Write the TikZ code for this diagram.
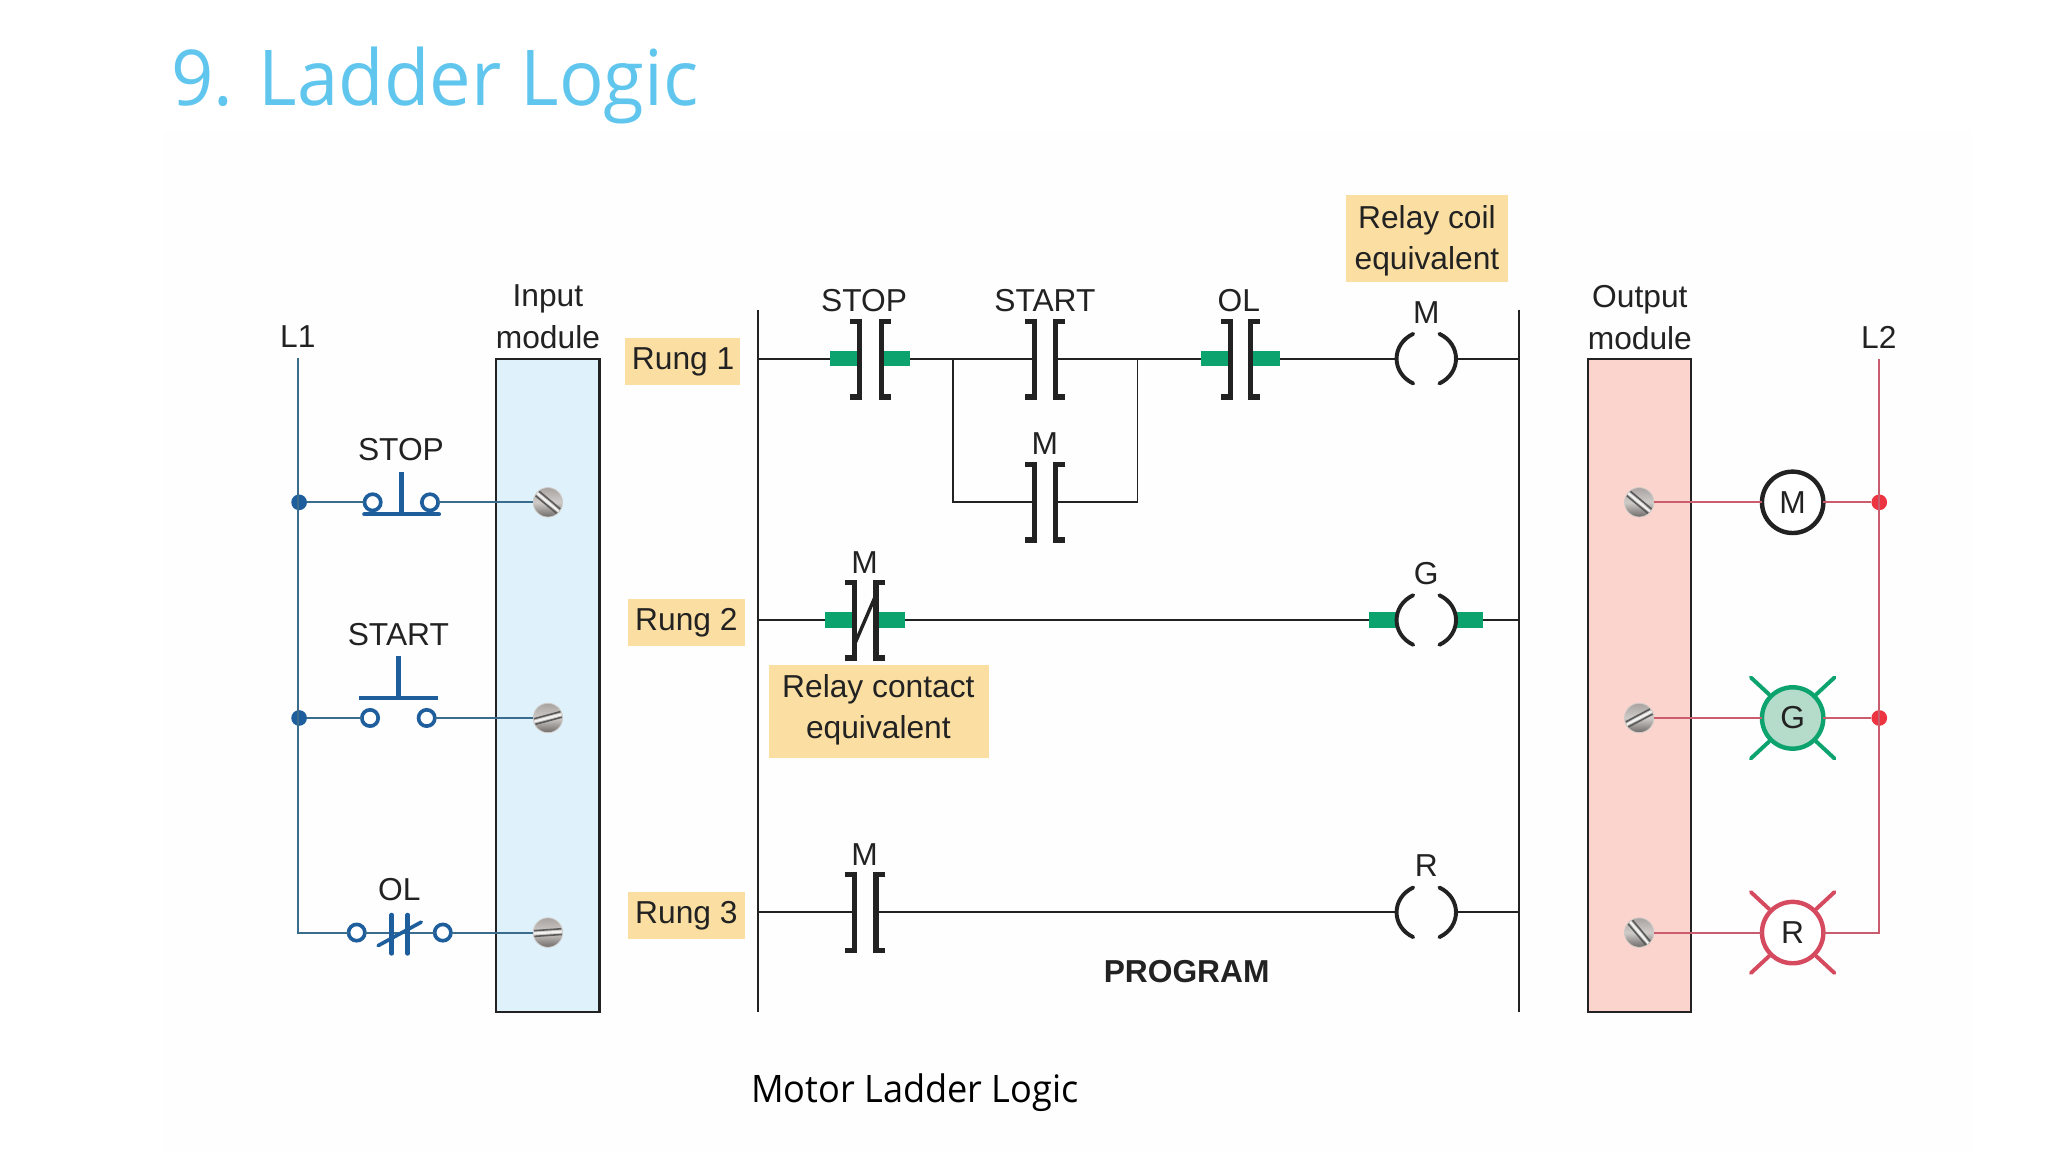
\documentclass[tikz,border=0pt]{standalone}
\usepackage{fontspec}
\setmainfont{Liberation Sans}
\newfontfamily\titlefont[FakeStretch=0.962]{Open Sans}
\newfontfamily\capfont[FakeStretch=0.955]{Open Sans}
\definecolor{titleblue}{HTML}{61C6EE}
\definecolor{tagyellow}{HTML}{FBDFA2}
\definecolor{inblue}{HTML}{DFF1FB}
\definecolor{outred}{HTML}{FBD5CD}
\definecolor{wireblue}{HTML}{3A6C8E}
\definecolor{iconblue}{HTML}{1F5E9C}
\definecolor{wirered}{HTML}{CB5C6E}
\definecolor{dotred}{HTML}{EC3540}
\definecolor{relaygreen}{HTML}{0DA36F}
\definecolor{lampgreen}{HTML}{B5DCCB}
\definecolor{lampred}{HTML}{D64A60}
\definecolor{inkk}{HTML}{222222}
\definecolor{screwlight}{HTML}{CFCBC8}
\definecolor{screwmid}{HTML}{A8A3A0}
\definecolor{screwdark}{HTML}{6E6A68}
\tikzset{
  x=1pt,y=-1pt,
  every node/.style={inner sep=0pt,outer sep=0pt,font=\fontsize{24.3}{26}\selectfont,text=inkk},
  tag/.style={fill=tagyellow,draw=none,anchor=center},
  module/.style={draw=inkk,line width=1.7pt},
  rail/.style={draw=inkk,line width=1.8pt},
  rung/.style={draw=inkk,line width=1.5pt},
  bwire/.style={draw=wireblue,line width=1.5pt},
  rwire/.style={draw=wirered,line width=1.5pt},
  term/.style={circle,draw=iconblue,line width=2.8pt,fill=white,minimum size=12.5pt},
  bicon/.style={draw=iconblue,line width=3.4pt},
  bdot/.style={circle,fill=iconblue,minimum size=12pt},
  rdot/.style={circle,fill=dotred,minimum size=12pt},
  gbar/.style={rectangle,fill=relaygreen,minimum height=12pt},
  bracket/.style={draw=inkk,line width=4pt},
  coilarc/.style={draw=inkk,line width=3pt,line cap=round},
  screw/.style={circle,minimum size=22.5pt,draw=screwlight,line width=0.6pt,top color=screwmid,bottom color=screwdark,middle color=screwlight},
  lamp/.style={circle,minimum size=47pt,line width=3.4pt,fill=white},
  ray/.style={line width=3pt,line cap=round},
}
\newcommand{\slot}[3]{%
  \begin{scope}[shift={(#1,#2)},rotate=#3]
    \draw[black!65,line width=1.2pt] (-10.5,-2.2) -- (10.5,-2.2);
    \draw[white!90!gray,line width=1.6pt] (-10.8,0) -- (10.8,0);
    \draw[black!65,line width=1.2pt] (-10.5,2.2) -- (10.5,2.2);
  \end{scope}}
\newcommand{\contact}[3]{%
  \draw[bracket] (#1-7,#3-29) -- (#1,#3-29) -- (#1,#3+29) -- (#1-7,#3+29);
  \draw[bracket] (#2+7,#3-29) -- (#2,#3-29) -- (#2,#3+29) -- (#2+7,#3+29);}
\newcommand{\coil}[2]{%
  \draw[coilarc] (#1-10,#2-19) .. controls (#1-27,#2-11) and (#1-27,#2+11) .. (#1-10,#2+19);
  \draw[coilarc] (#1+10,#2-19) .. controls (#1+27,#2-11) and (#1+27,#2+11) .. (#1+10,#2+19);}
\newcommand{\rays}[3]{%
  \draw[ray,#3] (#1-32,#2-31) -- (#1-18,#2-18);
  \draw[ray,#3] (#1+32,#2-31) -- (#1+18,#2-18);
  \draw[ray,#3] (#1-32,#2+31) -- (#1-18,#2+18);
  \draw[ray,#3] (#1+32,#2+31) -- (#1+18,#2+18);}
\begin{document}
\begin{tikzpicture}
\useasboundingbox (0,0) rectangle (1568,882);
\fill[white] (0,0) rectangle (1568,882);
\fill[black!0.4] (125,100) rectangle (1510,882);

% slide text
\node[font=\titlefont\fontsize{59}{62}\selectfont,text=titleblue,anchor=base west] (title) at (131,81) {9. Ladder Logic};
\node[font=\capfont\fontsize{29}{32}\selectfont,text=black,anchor=base west] (caption) at (575,844) {Motor Ladder Logic};

% modules
\node[module,fill=inblue,minimum width=79pt,minimum height=500pt] (inmod) at (419.5,525) {};
\node[module,fill=outred,minimum width=79pt,minimum height=500pt] (outmod) at (1255,525) {};

% tags
\node[tag,minimum width=88pt,minimum height=36pt] (tag1) at (522.5,276.5) {};
\node (tag1t) at (523,277) {Rung 1};
\node[tag,minimum width=90pt,minimum height=35.5pt] (tag2) at (525.5,476.7) {};
\node (tag2t) at (525.5,477) {Rung 2};
\node[tag,minimum width=90pt,minimum height=36pt] (tag3) at (525.5,701) {};
\node (tag3t) at (525.5,701) {Rung 3};
\node[tag,minimum width=124pt,minimum height=66.5pt] (tagcoil) at (1092.5,182.5) {};
\node (tagcoil1) at (1092.5,168.5) {Relay coil};
\node (tagcoil2) at (1092.5,200) {equivalent};
\node[tag,minimum width=168pt,minimum height=71pt] (tagcontact) at (673,544.5) {};
\node (tagcontact1) at (672.5,528) {Relay contact};
\node (tagcontact2) at (672.5,559.5) {equivalent};

% headings
\node (inA) at (419.5,229) {Input};
\node (inB) at (419.5,258.5) {module};
\node (outA) at (1255.5,229.5) {Output};
\node (outB) at (1255.5,259) {module};
\node (l1t) at (228,258) {L1};
\node (l2t) at (1438.5,258.5) {L2};
\node[font=\bfseries\fontsize{24.3}{26}\selectfont] (prog) at (908.5,744) {PROGRAM};

% --- left side ---
\coordinate (l1top) at (228.4,274);
\coordinate (l1bot) at (228.4,714);
\node[screw] (is1) at (419.5,384.6) {};
\node[screw] (is2) at (419.5,549.7) {};
\node[screw] (is3) at (419.5,714) {};
\node[term] (stopa) at (285.3,384.6) {};
\node[term] (stopb) at (329.2,384.6) {};
\node[term] (starta) at (283.3,549.7) {};
\node[term] (startb) at (326.7,549.7) {};
\node[term] (ola) at (273.1,714) {};
\node[term] (olb) at (339,714) {};
\node[bdot] (d1) at (229,384.6) {};
\node[bdot] (d2) at (229,549.7) {};
\draw[bwire] (l1top) -- (l1bot) -- (ola);
\draw[bwire] (d1) -- (stopa);
\draw[bwire] (stopb) -- (is1);
\draw[bwire] (d2) -- (starta);
\draw[bwire] (startb) -- (is2);
\draw[bwire] (olb) -- (is3);
\draw[bwire] (ola) -- (olb);
\slot{419.5}{384.6}{-40}
\slot{419.5}{549.7}{15}
\slot{419.5}{714}{4}
% stop button
\draw[bicon,line cap=round] (279,393.7) -- (336,393.7);
\draw[bicon] (307.5,361.4) -- (307.5,393.7);
\node (stopt) at (307,344) {STOP};
% start button
\draw[bicon,line width=3pt] (275,534.5) -- (335,534.5);
\draw[bicon] (305,502) -- (305,534.5);
\node (startt) at (305,486) {START};
% OL
\draw[bicon,line cap=round] (299.9,700.5) -- (299.9,730);
\draw[bicon,line cap=round] (312.1,700.5) -- (312.1,730);
\draw[bicon,line width=2.8pt,line cap=round] (289.5,724) -- (322.5,706);
\node (olt) at (305.7,681) {OL};

% --- ladder rails ---
\coordinate (railLt) at (580.2,237);
\coordinate (railLb) at (580.2,775);
\coordinate (railRt) at (1163.2,237);
\coordinate (railRb) at (1163.2,775);
\draw[rail] (railLt) -- (railLb);
\draw[rail] (railRt) -- (railRb);

% rung 1
\coordinate (r1a) at (580.2,274.6);
\coordinate (r1z) at (1163.2,274.6);
\node[gbar,minimum width=21pt] (g1a) at (646.3,274.6) {};
\node[gbar,minimum width=21pt] (g1b) at (686,274.6) {};
\node[gbar,minimum width=21.5pt] (g3a) at (930.4,274.6) {};
\node[gbar,minimum width=21pt] (g3b) at (969.5,274.6) {};
\coordinate (s2a) at (792,274.6);
\coordinate (s2b) at (808.4,274.6);
\coordinate (c1a) at (1069.5,274.6);
\coordinate (c1b) at (1114.3,274.6);
\coordinate (br1) at (729.5,274.6);
\coordinate (br2) at (870.9,274.6);
\coordinate (m1a) at (792,384.6);
\coordinate (m1b) at (808.4,384.6);
\draw[rung] (r1a) -- (g1a);
\draw[rung] (g1b) -- (s2a);
\draw[rung] (s2b) -- (g3a);
\draw[rung] (g3b) -- (c1a);
\draw[rung] (c1b) -- (r1z);
\draw[rung,line width=1.3pt] (br1) |- (m1a);
\draw[rung,line width=1.3pt] (m1b) -| (br2);
\contact{658}{674.9}{275}
\contact{792}{808.4}{275}
\contact{942}{957.6}{275}
\contact{792}{808.4}{384.4}
\coil{1092}{274.6}
\node (st1) at (661.5,230.5) {STOP};
\node (st2) at (800,230.5) {START};
\node (st3) at (948.5,230.5) {OL};
\node (st4) at (1092,239.5) {M};
\node (st5) at (800,340) {M};

% rung 2
\coordinate (r2a) at (580.2,474.7);
\coordinate (r2z) at (1163.2,474.7);
\node[gbar,minimum width=21pt] (g4a) at (642.5,474.7) {};
\node[gbar,minimum width=21.5pt] (g4b) at (682.5,474.7) {};
\node[gbar,minimum width=21pt] (g5a) at (1059,474.7) {};
\node[gbar,minimum width=21pt] (g5b) at (1125,474.7) {};
\draw[rung] (r2a) -- (g4a);
\draw[rung] (g4b) -- (g5a);
\draw[rung] (g5b) -- (r2z);
\contact{654}{670.6}{474.7}
\draw[inkk,line width=2.6pt] (670.6,455.5) -- (654,494);
\coil{1092}{474.7}
\node (st6) at (662,431) {M};
\node (st7) at (1092,439.5) {G};

% rung 3
\coordinate (r3a) at (580.2,698.5);
\coordinate (r3z) at (1163.2,698.5);
\coordinate (k3a) at (654,698.5);
\coordinate (k3b) at (670.6,698.5);
\coordinate (c3a) at (1069.5,698.5);
\coordinate (c3b) at (1114.3,698.5);
\draw[rung] (r3a) -- (k3a);
\draw[rung] (k3b) -- (c3a);
\draw[rung] (c3b) -- (r3z);
\contact{654}{670.6}{698.8}
\coil{1092}{698.5}
\node (st8) at (662,654.5) {M};
\node (st9) at (1092,663) {R};

% --- right side ---
\coordinate (l2top) at (1438.8,275);
\coordinate (l2bot) at (1438.8,714);
\node[screw] (os1) at (1255,384.6) {};
\node[screw] (os2) at (1255,549.7) {};
\node[screw] (os3) at (1255,714) {};
\node[lamp,draw=inkk] (mot) at (1372.5,384.6) {M};
\rays{1372.5}{549.7}{relaygreen}
\rays{1372.5}{714}{lampred}
\node[lamp,draw=relaygreen,fill=lampgreen] (lg) at (1372.5,549.7) {G};
\node[lamp,draw=lampred] (lr) at (1372.5,714) {R};
\node[rdot] (rd1) at (1438.8,384.6) {};
\node[rdot] (rd2) at (1438.8,549.7) {};
\draw[rwire] (l2top) -- (l2bot) -- (lr);
\draw[rwire] (os1) -- (mot);
\draw[rwire] (mot) -- (rd1);
\draw[rwire] (os2) -- (lg);
\draw[rwire] (lg) -- (rd2);
\draw[rwire] (os3) -- (lr);
\slot{1255}{384.6}{-40}
\slot{1255}{549.7}{28}
\slot{1255}{714}{-50}
\end{tikzpicture}
\end{document}
